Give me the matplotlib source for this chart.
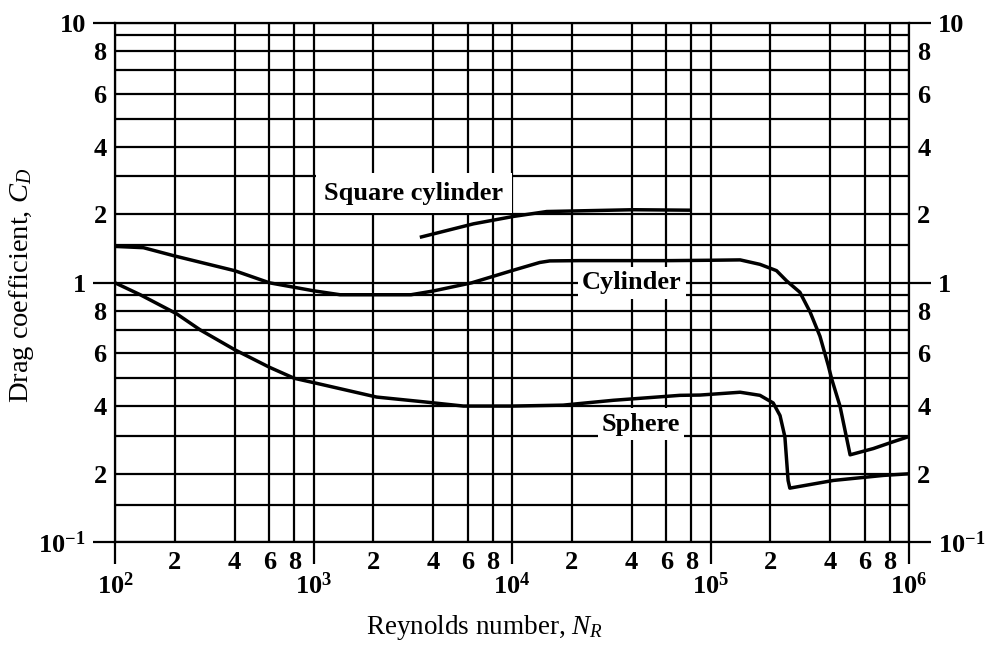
import numpy as np
import matplotlib
matplotlib.use("Agg")
import matplotlib.pyplot as plt
from matplotlib.ticker import FixedLocator, FixedFormatter

plt.rcParams['font.family'] = ['Liberation Serif', 'DejaVu Serif']
plt.rcParams['mathtext.fontset'] = 'custom'
plt.rcParams['mathtext.rm'] = 'Liberation Serif'
plt.rcParams['mathtext.it'] = 'Liberation Serif:italic'
plt.rcParams['mathtext.bf'] = 'Liberation Serif:bold'

# drag curves (Reynolds number, drag coefficient)
cyl_re = [100, 139, 200, 400, 600, 1000, 1360, 2200, 3100, 4000, 6270, 10150, 13800, 15500,
          22000, 50000, 62500, 100000, 141000, 177500, 215000, 242000, 282000, 317000,
          356000, 392000, 408000, 449000, 505000, 661000, 834000, 1000000]
cyl_cd = [1.48, 1.46, 1.335, 1.14, 1.0, 0.932, 0.9, 0.9, 0.9, 0.93, 1.0, 1.145, 1.245, 1.266,
          1.27, 1.27, 1.27, 1.275, 1.28, 1.22, 1.14, 1.02, 0.92, 0.795,
          0.671, 0.549, 0.497, 0.40, 0.245, 0.262, 0.282, 0.298]

sph_re = [100, 134, 204, 268, 400, 600, 800, 1000, 2080, 3575, 5690, 10150, 18100, 32400,
          70200, 88600, 141000, 177500, 207000, 224000, 237000, 246000, 251000, 416000,
          743000, 1000000]
sph_cd = [1.0, 0.9, 0.784, 0.7, 0.615, 0.542, 0.5, 0.483, 0.43, 0.414, 0.4, 0.4, 0.403, 0.419,
          0.436, 0.437, 0.447, 0.436, 0.41, 0.365, 0.297, 0.188, 0.175, 0.188,
          0.197, 0.2]

sq_re = [3500, 6400, 10150, 14960, 24700, 40800, 78900]
sq_cd = [1.62, 1.83, 1.96, 2.06, 2.08, 2.1, 2.09]

x_major = [1e2, 1e3, 1e4, 1e5, 1e6]
x_major_labels = [r'$\mathbf{10^{2}}$', r'$\mathbf{10^{3}}$', r'$\mathbf{10^{4}}$',
                  r'$\mathbf{10^{5}}$', r'$\mathbf{10^{6}}$']
x_minor = [m * d for d in [1e2, 1e3, 1e4, 1e5] for m in [2, 4, 6, 8]]
x_minor_labels = ['2', '4', '6', '8'] * 4

y_major = [0.1, 1, 10]
y_major_labels = [r'$\mathbf{10^{-1}}$', '1', '10']
y_grid_mant = [1.5, 2, 3, 4, 5, 6, 7, 8, 9]
y_minor = [m * d for d in [0.1, 1] for m in y_grid_mant]
y_minor_labels = [str(m) if m in (2, 4, 6, 8) else '' for d in [0.1, 1] for m in y_grid_mant]

# the printed ordinate is not quite logarithmic: spacing of the ruled lines in one decade
knot_mant = np.log10([1, 1.5, 2, 3, 4, 5, 6, 7, 8, 9, 10])
knot_frac = np.array([0, 0.145, 0.264, 0.41, 0.525, 0.632, 0.728, 0.819, 0.892, 0.954, 1.0])


def fwd(v):
    v = np.clip(np.asarray(v, dtype=float), 1e-6, None)
    lv = np.log10(v)
    d = np.floor(lv + 1e-12)
    return d + np.interp(lv - d, knot_mant, knot_frac)


def inv(p):
    p = np.asarray(p, dtype=float)
    d = np.floor(p + 1e-12)
    return 10 ** (d + np.interp(p - d, knot_frac, knot_mant))


fig = plt.figure(figsize=(9.94, 6.47), dpi=100)
ax = fig.add_axes([115 / 994, 1 - 542.3 / 647, 794 / 994, 519 / 647])

ax.set_xscale('log')
ax.set_yscale('function', functions=(fwd, inv))
ax.set_xlim(1e2, 1e6)
ax.set_ylim(0.1, 10)

ax.xaxis.set_major_locator(FixedLocator(x_major))
ax.xaxis.set_major_formatter(FixedFormatter(x_major_labels))
ax.xaxis.set_minor_locator(FixedLocator(x_minor))
ax.xaxis.set_minor_formatter(FixedFormatter(x_minor_labels))
ax.yaxis.set_major_locator(FixedLocator(y_major))
ax.yaxis.set_major_formatter(FixedFormatter(y_major_labels))
ax.yaxis.set_minor_locator(FixedLocator(y_minor))
ax.yaxis.set_minor_formatter(FixedFormatter(y_minor_labels))

ax.grid(which='both', color='black', linewidth=1.6)
for s in ax.spines.values():
    s.set_linewidth(1.6)

fs = 19
ax.tick_params(axis='x', which='major', direction='out', length=16, width=1.6,
               top=False, pad=6, labelsize=fs)
ax.tick_params(axis='x', which='minor', length=0, top=False, pad=6, labelsize=fs)
ax.tick_params(axis='y', which='major', direction='out', length=16, width=1.6,
               left=True, right=True, labelleft=True, labelright=True, pad=5, labelsize=fs)
ax.tick_params(axis='y', which='minor', length=0, left=True, right=True,
               labelleft=True, labelright=True, pad=6, labelsize=fs)
for lab in ax.get_xticklabels(which='both') + ax.get_yticklabels(which='both'):
    lab.set_fontweight('bold')

ax.plot(cyl_re, cyl_cd, color='black', linewidth=2.5, zorder=4)
ax.plot(sph_re, sph_cd, color='black', linewidth=2.5, zorder=4)
ax.plot(sq_re, sq_cd, color='black', linewidth=2.5, zorder=4)

box = dict(facecolor='white', edgecolor='none', pad=3)
ax.text(3200, 2.5, 'Square cylinder', fontsize=19, fontweight='bold', ha='center',
        va='center', bbox=dict(facecolor='white', edgecolor='none', pad=6), zorder=5)
ax.text(40250, 1.0, 'Cylinder', fontsize=19, fontweight='bold', ha='center',
        va='center', bbox=box, zorder=5)
ax.text(44650, 0.336, 'Sphere', fontsize=19, fontweight='bold', ha='center',
        va='center', bbox=box, zorder=5)

fig.text(22 / 994, 1 - 285 / 647, r'Drag coefficient, $C_D$', fontsize=20.5,
         rotation=90, ha='center', va='center')
fig.text(485 / 994, 1 - 627 / 647, r'Reynolds number, $N_R$', fontsize=19.5,
         ha='center', va='center')

fig.savefig('out.png', dpi=100)
